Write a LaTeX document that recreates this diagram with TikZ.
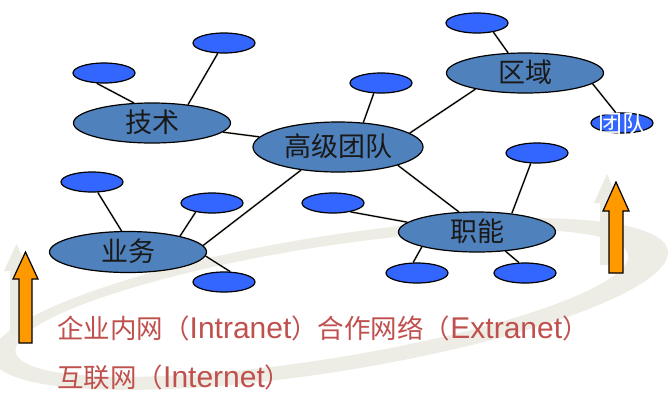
\documentclass[tikz,border=0pt]{standalone}
\usepackage{fontspec}
\setmainfont{Liberation Sans}
\newfontfamily\cjk{Noto Sans CJK SC}
\newfontfamily\latf{Liberation Sans}
\usetikzlibrary{shapes.geometric}
\pgfdeclarelayer{bg}
\pgfsetlayers{bg,main}
\definecolor{bigblue}{HTML}{4F81BD}
\definecolor{smallblue}{HTML}{3366FF}
\definecolor{shadowc}{RGB}{236,235,227}
\definecolor{ringc}{RGB}{238,237,229}
\definecolor{arroworange}{HTML}{FF9900}
\definecolor{textred}{HTML}{C0504D}
\newcommand\latpart[1]{{\latf\fontsize{30}{30}\selectfont #1}}
\tikzset{
  bigell/.style={ellipse, draw=black, line width=1.2pt, fill=bigblue, inner sep=0pt,
    minimum width=157pt, minimum height=40pt, text height=19pt, text depth=0pt,
    font=\cjk\fontsize{27}{27}\selectfont, text=black!90},
  smallell/.style={ellipse, draw=black, line width=1.2pt, fill=smallblue, inner sep=0pt,
    minimum width=62pt, minimum height=20pt},
  link/.style={line width=1.3pt, draw=black},
  linkshadow/.style={line width=2.5pt, draw=shadowc},
  shadowfill/.style={fill=shadowc},
  upar/.style={draw=black, line width=1.2pt, fill=arroworange, line join=miter},
  caption/.style={anchor=base west, text=textred, inner sep=0pt, font=\cjk\fontsize{26.5}{26.5}\selectfont},
}
\begin{document}
\begin{tikzpicture}[x=1pt,y=-1pt]
\useasboundingbox (0,0) rectangle (672,392);

% big nodes
\node[bigell] (js) at (152,123) {技术};
\node[bigell, minimum width=170pt, minimum height=50pt] (gj) at (338,147) {高级团队};
\node[bigell] (qy) at (525,73) {区域};
\node[bigell, minimum height=41pt] (yw) at (128,252) {业务};
\node[bigell] (zn) at (477,232) {职能};
% small nodes
\node[smallell] (a1) at (104,73) {};
\node[smallell] (a2) at (224,43) {};
\node[smallell] (b1) at (477,23) {};
\node[smallell] (td) at (622,123) {};
\node[text=white, inner sep=0pt, font=\cjk\fontsize{24}{24}\selectfont] (tdl) at (td.center) {团队};
\node[smallell] (c1) at (381,83) {};
\node[smallell] (d1) at (537,153) {};
\node[smallell] (e1) at (92,182) {};
\node[smallell] (e2) at (212,203) {};
\node[smallell] (e3) at (224,282) {};
\node[smallell] (f1) at (333,203) {};
\node[smallell] (f2) at (417,273) {};
\node[smallell] (f3) at (525,273) {};

% connectors (drawn behind nodes)
\begin{pgfonlayer}{bg}
  \fill[white] (0,0) rectangle (672,392);
  % swoosh ring
  \begin{scope}[rotate around={9:(330,304)}]
    \fill[ringc, even odd rule] (330,304) ellipse [x radius=342, y radius=68] (322,302) ellipse [x radius=310, y radius=56];
  \end{scope}
  % shadows
  \begin{scope}[shift={(-8,-8)}]
    \foreach \n/\rx/\ry in {js/79/20, qy/79/20, yw/79/21, zn/79/20}
      \path[shadowfill] (\n.center) ellipse [x radius=\rx, y radius=\ry];
    \path[shadowfill] (gj.center) ellipse [x radius=85.5, y radius=25.5];
    \foreach \n in {a1,a2,b1,td,c1,d1,e1,e2,e3,f1,f2,f3}
      \path[shadowfill] (\n.center) ellipse [x radius=31.5, y radius=10.5];
    \draw[linkshadow] (a1.235) -- (js.132);
    \draw[linkshadow] (a2.239) -- (js.27);
    \draw[linkshadow] (js) -- (gj);
    \draw[linkshadow] (c1.235) -- (gj.44);
    \draw[linkshadow] (gj.11) -- (qy.198);
    \draw[linkshadow] (b1.331) -- (qy.130);
    \draw[linkshadow] (qy.-9) -- (td.121);
    \draw[linkshadow] (gj.-17) -- (zn.132);
    \draw[linkshadow] (d1.239) -- (zn.28);
    \draw[linkshadow] (f1.333) -- (zn.172);
    \draw[linkshadow] (zn.195) -- (f2.110);
    \draw[linkshadow] (zn.-34) -- (f3.120);
    \draw[linkshadow] (e1.299) -- (yw.107);
    \draw[linkshadow] (e2.209) -- (yw.17);
    \draw[linkshadow] (yw.5) -- (gj.212);
    \draw[linkshadow] (yw.-3) -- (e3.59);
  \end{scope}
  \begin{scope}[shift={(-9,-8)}]
    \path[shadowfill] (25.5,252) -- (38,279) -- (32,279) -- (32,343) -- (19,343) -- (19,279) -- (13,279) -- cycle;
    \path[shadowfill] (616,182) -- (629,211) -- (623,211) -- (623,273) -- (609,273) -- (609,211) -- (603,211) -- cycle;
  \end{scope}
  % real connectors
  \draw[link] (a1.235) -- (js.132);
  \draw[link] (a2.239) -- (js.27);
  \draw[link] (js) -- (gj);
  \draw[link] (c1.235) -- (gj.44);
  \draw[link] (gj.11) -- (qy.198);
  \draw[link] (b1.331) -- (qy.130);
  \draw[link] (qy.-9) -- (td.121);
  \draw[link] (gj.-17) -- (zn.132);
  \draw[link] (d1.239) -- (zn.28);
  \draw[link] (f1.333) -- (zn.172);
  \draw[link] (zn.195) -- (f2.110);
  \draw[link] (zn.-34) -- (f3.120);
  \draw[link] (e1.299) -- (yw.107);
  \draw[link] (e2.209) -- (yw.17);
  \draw[link] (yw.5) -- (gj.212);
  \draw[link] (yw.-3) -- (e3.59);
\end{pgfonlayer}

% orange arrows
\draw[upar] (25.5,252) -- (38,279) -- (32,279) -- (32,343) -- (19,343) -- (19,279) -- (13,279) -- cycle;
\draw[upar] (616,182) -- (629,211) -- (623,211) -- (623,273) -- (609,273) -- (609,211) -- (603,211) -- cycle;

% captions
\node[caption] (cap1) at (57,338) {企业内网（\latpart{Intranet}）合作网络（\latpart{Extranet}）};
\node[caption] (cap2) at (57,387) {互联网（\latpart{Internet}）};
\end{tikzpicture}
\end{document}
